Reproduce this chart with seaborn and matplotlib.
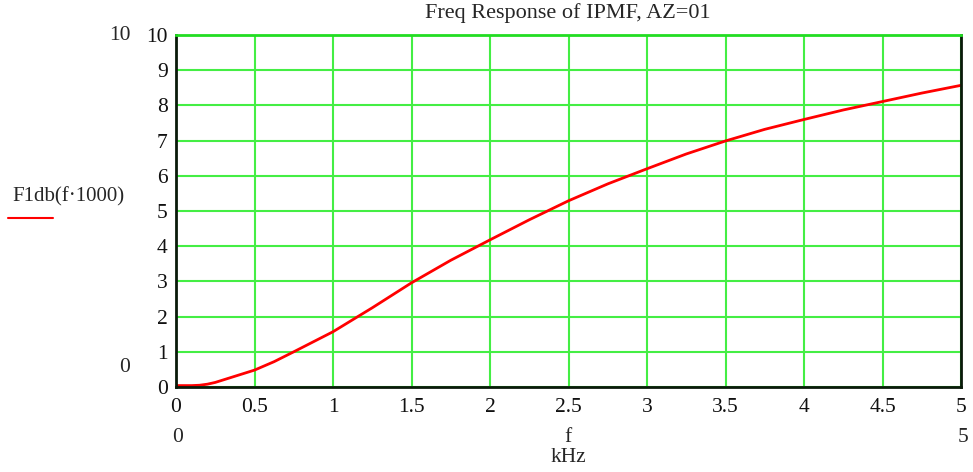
import pandas as pd
import matplotlib
matplotlib.use("Agg")
import matplotlib.pyplot as plt
import seaborn as sns

# Frequency response values
f_khz = [0.0, 0.1, 0.15, 0.2, 0.25, 0.35, 0.5, 0.625, 0.75, 1.0, 1.25, 1.5, 1.75,
         2.0, 2.25, 2.5, 2.75, 3.0, 3.25, 3.5, 3.75, 4.0, 4.25, 4.5, 4.75, 5.0]
f1db = [0.04, 0.04, 0.05, 0.08, 0.13, 0.27, 0.48, 0.72, 1.0, 1.57, 2.25, 2.96, 3.6,
        4.18, 4.75, 5.29, 5.77, 6.2, 6.62, 6.99, 7.32, 7.6, 7.87, 8.11, 8.35, 8.57]

x_ticks = [0, 0.5, 1, 1.5, 2, 2.5, 3, 3.5, 4, 4.5, 5]
x_labels = ["0", "0.5", "1", "1.5", "2", "2.5", "3", "3.5", "4", "4.5", "5"]
y_ticks = list(range(0, 11))

df = pd.DataFrame({"f": f_khz, "F1db": f1db})

sns.set_style("white")
plt.rcParams["font.family"] = ["Liberation Serif", "DejaVu Serif"]

fig = plt.figure(figsize=(9.73, 4.72), dpi=100)
ax = fig.add_axes([176 / 973, 1 - 387 / 472, 785 / 973, 352 / 472])

sns.lineplot(data=df, x="f", y="F1db", color="red", linewidth=2, ax=ax)

ax.set_xlim(0, 5)
ax.set_ylim(0, 10)
ax.set_xticks(x_ticks)
ax.set_xticklabels(x_labels)
ax.set_yticks(y_ticks)
ax.grid(True, color="#44ee44", linewidth=1.5)
ax.set_axisbelow(True)
ax.tick_params(axis="both", length=0, labelsize=15.5, colors="#111111")
ax.tick_params(axis="x", pad=8)
ax.tick_params(axis="y", pad=6)
for s in ax.spines.values():
    s.set_color("#0a1a0a")
    s.set_linewidth(2)
ax.spines["top"].set_color("#22dd22")
ax.set_xlabel("")
ax.set_ylabel("")

# Mathcad-style annotations
fs = 15.5
fig.text(568 / 973, 1 - 13 / 472, "Freq Response of IPMF, AZ=01", ha="center", va="center", fontsize=16)
fig.text(131 / 973, 1 - 35 / 472, "10", ha="right", va="center", fontsize=fs)
fig.text(130 / 973, 1 - 367 / 472, "0", ha="right", va="center", fontsize=fs)
fig.text(178 / 973, 1 - 437 / 472, "0", ha="center", va="center", fontsize=fs)
fig.text(963 / 973, 1 - 437 / 472, "5", ha="center", va="center", fontsize=fs)
fig.text(568 / 973, 1 - 437 / 472, "f", ha="center", va="center", fontsize=fs)
fig.text(568 / 973, 1 - 457 / 472, "kHz", ha="center", va="center", fontsize=fs)
fig.text(12 / 973, 1 - 197 / 472, "F1db(f\u00b71000)", ha="left", va="center", fontsize=15)
fig.add_artist(plt.Line2D([8 / 973, 53 / 973], [1 - 218 / 472, 1 - 218 / 472], color="red", linewidth=1.5))

plt.savefig("out.png", dpi=100)
